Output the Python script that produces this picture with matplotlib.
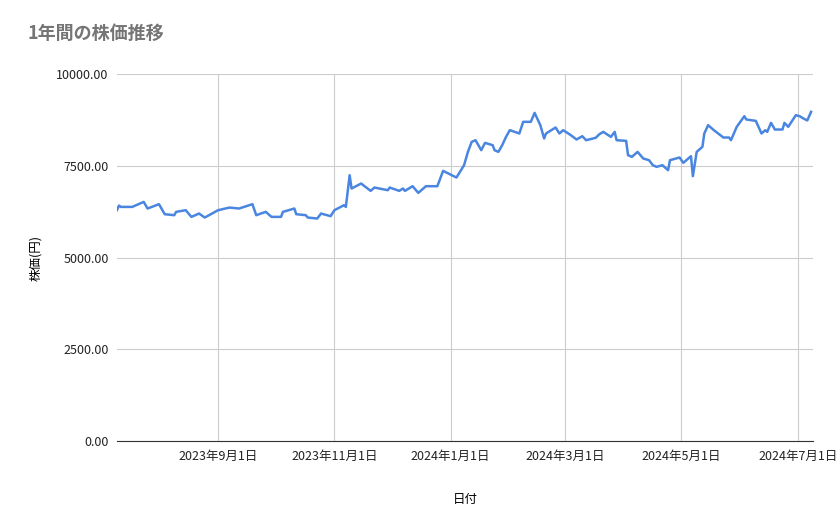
import matplotlib.pyplot as plt
import matplotlib.dates as mdates
from matplotlib.ticker import FuncFormatter
import pandas as pd

plt.rcParams['font.family'] = ['Noto Sans CJK JP', 'DejaVu Sans']

dates = ['2023-07-10', '2023-07-11', '2023-07-12', '2023-07-18', '2023-07-24', '2023-07-26', '2023-08-01',
         '2023-08-04', '2023-08-09', '2023-08-10', '2023-08-15', '2023-08-18', '2023-08-22', '2023-08-25',
         '2023-09-01', '2023-09-07', '2023-09-12', '2023-09-19', '2023-09-21', '2023-09-26', '2023-09-29',
         '2023-10-04', '2023-10-05', '2023-10-11', '2023-10-12', '2023-10-17', '2023-10-18', '2023-10-23',
         '2023-10-25', '2023-10-30', '2023-11-01', '2023-11-06', '2023-11-07', '2023-11-09', '2023-11-10',
         '2023-11-15', '2023-11-20', '2023-11-22', '2023-11-29', '2023-11-30', '2023-12-05', '2023-12-07',
         '2023-12-08', '2023-12-12', '2023-12-15', '2023-12-19', '2023-12-25', '2023-12-28', '2024-01-04',
         '2024-01-08', '2024-01-10', '2024-01-12', '2024-01-14', '2024-01-17', '2024-01-19', '2024-01-23',
         '2024-01-24', '2024-01-26', '2024-01-28', '2024-01-30', '2024-02-01', '2024-02-06', '2024-02-08',
         '2024-02-12', '2024-02-14', '2024-02-17', '2024-02-19', '2024-02-20', '2024-02-25', '2024-02-27',
         '2024-02-29', '2024-03-04', '2024-03-07', '2024-03-10', '2024-03-12', '2024-03-17', '2024-03-19',
         '2024-03-21', '2024-03-25', '2024-03-27', '2024-03-28', '2024-04-02', '2024-04-03', '2024-04-05',
         '2024-04-08', '2024-04-11', '2024-04-14', '2024-04-16', '2024-04-18', '2024-04-21', '2024-04-24',
         '2024-04-25', '2024-04-30', '2024-05-02', '2024-05-06', '2024-05-07', '2024-05-09', '2024-05-12',
         '2024-05-13', '2024-05-15', '2024-05-18', '2024-05-23', '2024-05-26', '2024-05-27', '2024-05-30',
         '2024-06-03', '2024-06-04', '2024-06-09', '2024-06-12', '2024-06-14', '2024-06-15', '2024-06-17',
         '2024-06-19', '2024-06-23', '2024-06-24', '2024-06-26', '2024-06-30', '2024-07-02', '2024-07-04',
         '2024-07-06', '2024-07-08']
prices = [6300, 6420, 6384, 6384, 6521, 6340, 6458,
          6185, 6158, 6249, 6294, 6112, 6203, 6094,
          6294, 6366, 6340, 6458, 6158, 6249, 6112,
          6112, 6249, 6340, 6185, 6158, 6094, 6067,
          6203, 6131, 6294, 6430, 6384, 7248, 6885,
          7021, 6821, 6912, 6839, 6912, 6821, 6885,
          6821, 6948, 6766, 6948, 6948, 7366, 7185,
          7520, 7880, 8156, 8202, 7930, 8129, 8066,
          7930, 7883, 8066, 8292, 8475, 8385, 8702,
          8702, 8946, 8611, 8248, 8385, 8548, 8385,
          8475, 8339, 8221, 8311, 8202, 8266, 8366,
          8429, 8292, 8429, 8202, 8184, 7794, 7748,
          7883, 7703, 7657, 7521, 7475, 7521, 7385,
          7657, 7730, 7585, 7766, 7221, 7883, 8021,
          8385, 8611, 8475, 8275, 8275, 8202, 8566,
          8856, 8766, 8729, 8385, 8475, 8429, 8675,
          8493, 8493, 8675, 8566, 8884, 8856, 8793,
          8740, 8975]
tick_dates = ['2023-09-01', '2023-11-01', '2024-01-01', '2024-03-01', '2024-05-01', '2024-07-01']

x = pd.to_datetime(dates)

fig = plt.figure(figsize=(8.39, 5.19), dpi=100)
ax = fig.add_axes([0.1395, 0.150, 0.8295, 0.707])
ax.plot(x, prices, color='#4a86e0', linewidth=1.8)

ax.set_xlim(pd.Timestamp('2023-07-10'), pd.Timestamp('2024-07-09'))
ax.set_ylim(0, 10000)
ax.set_yticks([0, 2500, 5000, 7500, 10000])
ax.yaxis.set_major_formatter(FuncFormatter(lambda v, p: f'{v:.2f}'))
ax.set_xticks(pd.to_datetime(tick_dates))
ax.xaxis.set_major_formatter(FuncFormatter(
    lambda v, p: (lambda d: f'{d.year}年{d.month}月{d.day}日')(mdates.num2date(v))))

ax.grid(True, color='#cccccc', linewidth=0.8)
ax.set_axisbelow(True)
for s in ['top', 'right', 'left']:
    ax.spines[s].set_visible(False)
ax.spines['bottom'].set_color('#333333')
ax.tick_params(length=0, labelsize=9, colors='#222222', pad=6)

ax.set_xlabel('日付', fontsize=9, labelpad=22)
ax.set_ylabel('株価(円)', fontsize=9, labelpad=10)
fig.text(0.033, 0.925, '1年間の株価推移', fontsize=13, color='#757575', fontweight='bold')

fig.savefig('out.png')
